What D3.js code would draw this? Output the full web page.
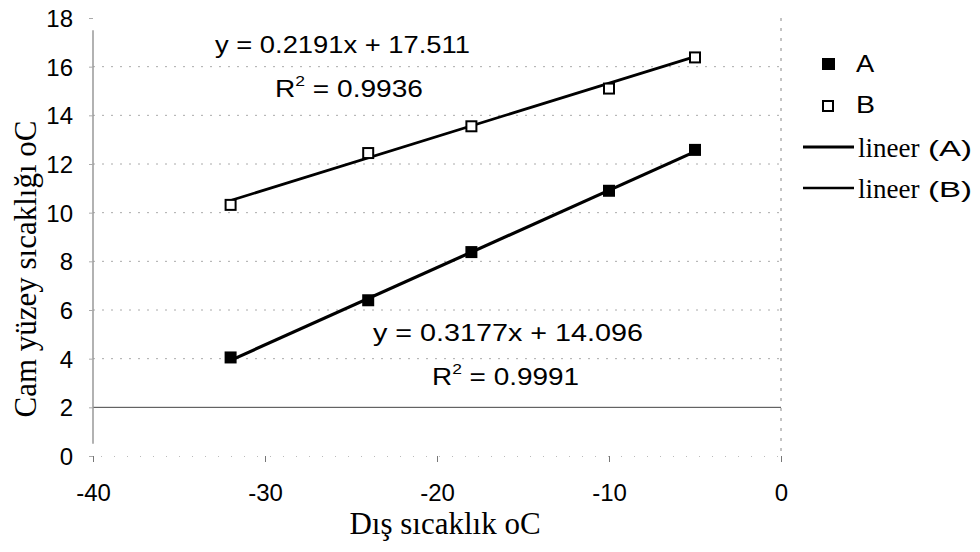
<!DOCTYPE html>
<html>
<head>
<meta charset="utf-8">
<script src="https://cdn.jsdelivr.net/npm/d3@7"></script>
<style>
  body { margin: 0; background: #fff; }
  svg { display: block; }
  .sans { font-family: Arial, "Liberation Sans", sans-serif; }
  .serif { font-family: "Times New Roman", "Liberation Serif", serif; }
</style>
</head>
<body>
<svg id="chart" width="980" height="552"></svg>
<script>
// Outdoor temperature (°C) at which glass surface temperature was measured
const outdoorTemps = [-32, -24, -18, -10, -5];
// Glass surface temperatures, series A and B
const seriesA = [4.05, 6.4, 8.38, 10.9, 12.58];
const seriesB = [10.32, 12.45, 13.55, 15.1, 16.38];
// Linear trend fits (slope, intercept, R²)
const fitA = { slope: 0.3177, intercept: 14.096, r2: "0.9991" };
const fitB = { slope: 0.2191, intercept: 17.511, r2: "0.9936" };
const xTicks = [-40, -30, -20, -10, 0];
const yTicks = [0, 2, 4, 6, 8, 10, 12, 14, 16, 18];

const svg = d3.select("#chart");
const x = d3.scaleLinear().domain([-40, 0]).range([93, 781]);
const y = d3.scaleLinear().domain([0, 18]).range([456, 18]);

// Places a text group so that it spans [x0, x0 + width] horizontally
function fitWidth(g, x0, y0, width) {
  const w = g.node().getBBox().width;
  g.attr("transform", `translate(${x0},${y0}) scale(${width / w},1)`);
}

// Horizontal gridlines (faint, dotted)
svg.append("g").selectAll("line")
  .data(yTicks.filter(d => d > 0 && d < 18))
  .join("line")
  .attr("x1", x(-40)).attr("x2", x(0))
  .attr("y1", d => y(d)).attr("y2", d => y(d))
  .attr("stroke", d => d === 2 ? "#444" : "#aaa")
  .attr("stroke-width", 1)
  .attr("stroke-dasharray", d => d === 2 ? null : "2,7");

// Right border at x = 0 (dotted)
svg.append("line")
  .attr("x1", x(0)).attr("x2", x(0))
  .attr("y1", y(18)).attr("y2", y(0))
  .attr("stroke", "#888").attr("stroke-dasharray", "3,7");

// Y axis
const yAxis = d3.axisLeft(y).tickValues(yTicks).tickSize(4).tickFormat(d => String(d));
const gy = svg.append("g").attr("transform", `translate(${x(-40)},0)`).call(yAxis);
gy.select(".domain").attr("stroke", "#999").attr("stroke-width", 1.5)
  .attr("d", `M0,${y(17.5)}V${y(0.5)}`);
gy.selectAll(".tick line").attr("stroke", "#aaa");
gy.selectAll(".tick text").attr("class", "sans").attr("font-size", 24)
  .attr("fill", "#000").attr("x", -20).attr("dy", "0.36em");

// X axis
const xAxis = d3.axisBottom(x).tickValues(xTicks).tickSize(6).tickFormat(d => String(d));
const gx = svg.append("g").attr("transform", `translate(0,${y(0)})`).call(xAxis);
gx.select(".domain").attr("stroke", "#bbb").attr("stroke-dasharray", "1,12");
gx.selectAll(".tick line").attr("stroke", "#777");
gx.selectAll(".tick text").attr("class", "sans").attr("font-size", 24)
  .attr("fill", "#000").attr("y", 45).attr("dy", 0);

// Trend lines over the measured range
const xMin = d3.min(outdoorTemps), xMax = d3.max(outdoorTemps);
[fitA, fitB].forEach((f, i) => {
  svg.append("line")
    .attr("x1", x(xMin)).attr("y1", y(f.slope * xMin + f.intercept))
    .attr("x2", x(xMax)).attr("y2", y(f.slope * xMax + f.intercept))
    .attr("stroke", "#000").attr("stroke-width", i === 0 ? 3.2 : 2.8);
});

// Markers
const ms = 12;
svg.append("g").selectAll("rect")
  .data(outdoorTemps.map((t, i) => [t, seriesA[i]]))
  .join("rect")
  .attr("x", d => x(d[0]) - ms / 2).attr("y", d => y(d[1]) - ms / 2)
  .attr("width", ms).attr("height", ms).attr("fill", "#000");
svg.append("g").selectAll("rect")
  .data(outdoorTemps.map((t, i) => [t, seriesB[i]]))
  .join("rect")
  .attr("x", d => x(d[0]) - ms / 2 + 1).attr("y", d => y(d[1]) - ms / 2 + 1)
  .attr("width", ms - 2).attr("height", ms - 2)
  .attr("fill", "#fff").attr("stroke", "#000").attr("stroke-width", 2);

// Equation labels
function eqLabel(f, x1, y1, w1, x2, w2) {
  const g1 = svg.append("g").attr("class", "sans").attr("font-size", 24).attr("fill", "#000");
  g1.append("text").text(`y = ${f.slope}x + ${f.intercept.toFixed(3)}`);
  fitWidth(g1, x1, y1, w1);
  const g2 = svg.append("g").attr("class", "sans").attr("font-size", 24).attr("fill", "#000");
  const t = g2.append("text");
  t.append("tspan").text("R");
  t.append("tspan").attr("font-size", 15).attr("dy", -11).text("2");
  t.append("tspan").attr("dy", 11).text(" = " + f.r2);
  fitWidth(g2, x2, y1 + 44, w2);
}
eqLabel(fitB, 215, 53, 255, 275, 148);
eqLabel(fitA, 373, 341, 270, 432, 147);

// Legend
const lg = svg.append("g");
lg.append("rect").attr("x", 822).attr("y", 58).attr("width", 13).attr("height", 12).attr("fill", "#000");
lg.append("rect").attr("x", 823).attr("y", 101).attr("width", 10).attr("height", 10)
  .attr("fill", "#fff").attr("stroke", "#000").attr("stroke-width", 2);
[["A", 72], ["B", 113]].forEach(([k, yy]) => {
  const g = lg.append("g").attr("class", "sans").attr("font-size", 23);
  g.append("text").text(k);
  fitWidth(g, 856, yy, 19);
});
[["A", 147, 3.2], ["B", 188, 2.4]].forEach(([k, yy, sw]) => {
  lg.append("line").attr("x1", 803).attr("x2", 854).attr("y1", yy).attr("y2", yy)
    .attr("stroke", "#000").attr("stroke-width", sw);
  lg.append("text").attr("class", "serif").attr("x", 858).attr("y", yy + 10)
    .attr("font-size", 27).attr("fill", "#000").text("lineer");
  const g = lg.append("g").attr("class", "sans").attr("font-size", 22).attr("fill", "#000");
  g.append("text").text(`(${k})`);
  fitWidth(g, 928, yy + 9, 44);
});

// Axis titles
svg.append("text").attr("class", "serif").attr("x", 445).attr("y", 534)
  .attr("text-anchor", "middle").attr("font-size", 31).attr("fill", "#000")
  .text("Dış sıcaklık oC");
svg.append("text").attr("class", "serif")
  .attr("transform", "translate(36,269) rotate(-90)")
  .attr("text-anchor", "middle").attr("font-size", 31).attr("fill", "#000")
  .text("Cam yüzey sıcaklığı oC");
</script>
</body>
</html>
